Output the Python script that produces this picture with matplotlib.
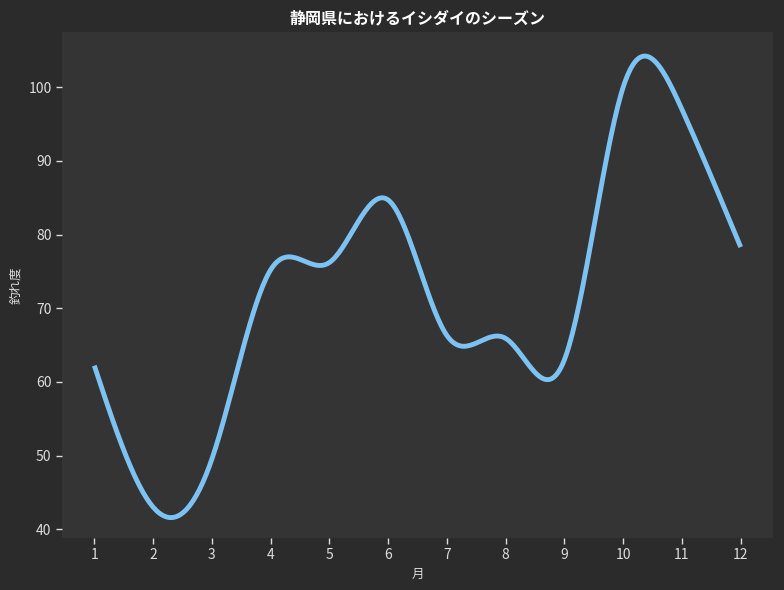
import numpy as np
import matplotlib
matplotlib.use("Agg")
import matplotlib.pyplot as plt

plt.rcParams['font.family'] = ['Noto Sans CJK JP', 'DejaVu Sans']

months = [1, 2, 3, 4, 5, 6, 7, 8, 9, 10, 11, 12]
catch_rate = [62.2, 43.0, 49.5, 75.2, 76.2, 84.7, 66.3, 65.9, 63.0, 100.0, 97.0, 78.3]
title = "静岡県におけるイシダイのシーズン"
xlabel = "月"
ylabel = "釣れ度"


def natural_spline(x, y, xs):
    x = np.asarray(x, float)
    y = np.asarray(y, float)
    n = len(x)
    h = np.diff(x)
    A = np.zeros((n, n))
    b = np.zeros(n)
    A[0, 0] = 1
    A[-1, -1] = 1
    for i in range(1, n - 1):
        A[i, i - 1] = h[i - 1]
        A[i, i] = 2 * (h[i - 1] + h[i])
        A[i, i + 1] = h[i]
        b[i] = 6 * ((y[i + 1] - y[i]) / h[i] - (y[i] - y[i - 1]) / h[i - 1])
    M = np.linalg.solve(A, b)
    idx = np.clip(np.searchsorted(x, xs, side='right') - 1, 0, n - 2)
    x0, x1 = x[idx], x[idx + 1]
    hh = x1 - x0
    a = (x1 - xs) / hh
    bb = (xs - x0) / hh
    return (a * y[idx] + bb * y[idx + 1]
            + ((a ** 3 - a) * M[idx] + (bb ** 3 - bb) * M[idx + 1]) * hh ** 2 / 6)


fig = plt.figure(figsize=(7.84, 5.9), dpi=100, facecolor='#2b2b2b')
ax = fig.add_axes([62 / 784, 1 - 538 / 590, (773 - 62) / 784, (538 - 32) / 590])
ax.set_facecolor('#343434')

xs = np.linspace(min(months), max(months), 400)
ys = natural_spline(months, catch_rate, xs)
ax.plot(xs, ys, color='#7cc3f3', linewidth=3.5, solid_capstyle='butt')

ax.set_xlim(0.45, 12.55)
ax.set_ylim(38.8, 107.5)
ax.set_xticks(months)
ax.set_yticks([40, 50, 60, 70, 80, 90, 100])
for s in ax.spines.values():
    s.set_visible(False)
ax.tick_params(colors='#dddddd', labelsize=10, length=4, width=1)
ax.set_title(title, color='white', fontsize=11.5, fontweight='bold', pad=6)
ax.set_xlabel(xlabel, color='#dddddd', fontsize=9)
ax.set_ylabel(ylabel, color='#dddddd', fontsize=9)

fig.savefig('out.png', dpi=100, facecolor=fig.get_facecolor())
